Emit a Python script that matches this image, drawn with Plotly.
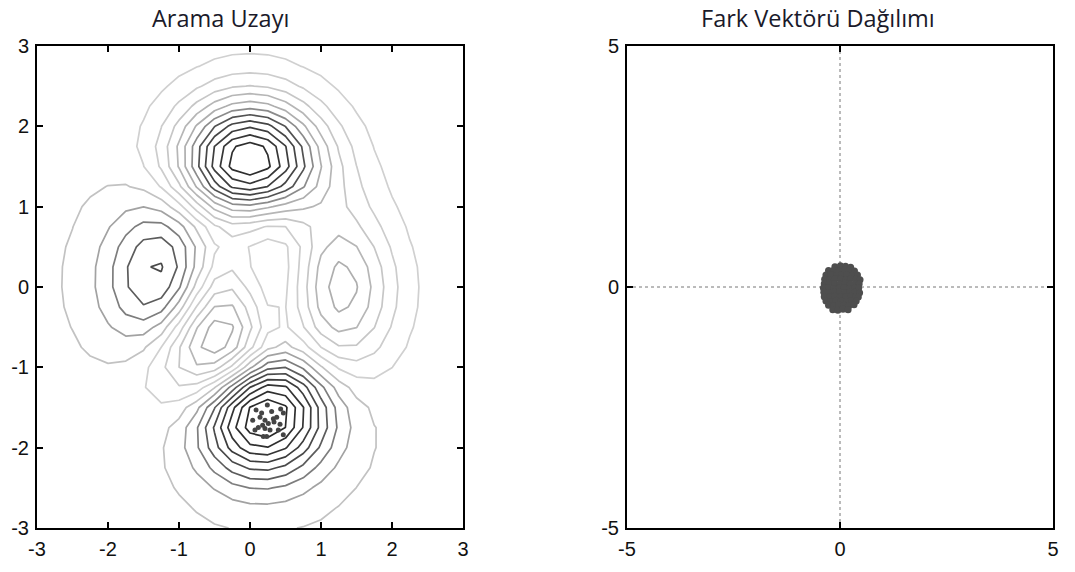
import numpy as np
import plotly.graph_objects as go

# ---------------- data ----------------
titles = ["Arama Uzayı", "Fark Vektörü Dağılımı"]
left_ticks = [-3, -2, -1, 0, 1, 2, 3]
left_ticktext = ["-3", "-2", "-1", "0", "1", "2", "3"]
right_ticks = [-5, 0, 5]
right_ticktext = ["-5", "0", "5"]
n_levels = 20

# search-space surface (MATLAB "peaks" landscape) sampled on a coarse 25x25 grid
grid_x = np.linspace(-3, 3, 25)
grid_y = np.linspace(-3, 3, 25)
GX, GY = np.meshgrid(grid_x, grid_y)
surface_z = (3 * (1 - GX) ** 2 * np.exp(-GX ** 2 - (GY + 1) ** 2)
             - 10 * (GX / 5 - GX ** 3 - GY ** 5) * np.exp(-GX ** 2 - GY ** 2)
             - 1 / 3 * np.exp(-(GX + 1) ** 2 - GY ** 2))

# population points in the search space
pop_x = [0.085, 0.244, 0.432, 0.305, 0.470, 0.376, 0.141, 0.211, 0.038, 0.258, 0.178, 0.338,
         0.423, 0.117, 0.211, 0.282, 0.070, 0.235, 0.188, 0.399, 0.469, 0.329, 0.164]
pop_y = [-1.53, -1.47, -1.52, -1.55, -1.57, -1.62, -1.62, -1.66, -1.66, -1.70, -1.72, -1.68,
         -1.71, -1.75, -1.76, -1.78, -1.78, -1.86, -1.86, -1.78, -1.84, -1.64, -1.57]

# difference-vector cloud
diff_x = [-0.12, 0.01, 0.13, 0.25,
          -0.27, -0.15, -0.02, 0.10, 0.22, 0.34,
          -0.33, -0.21, -0.08, 0.04, 0.16, 0.29, 0.41,
          -0.36, -0.24, -0.11, 0.01, 0.13, 0.25, 0.38, 0.47,
          -0.37, -0.25, -0.13, 0.00, 0.12, 0.24, 0.36, 0.45,
          -0.39, -0.27, -0.14, -0.02, 0.10, 0.22, 0.34, 0.44,
          -0.38, -0.26, -0.13, -0.01, 0.11, 0.23, 0.35, 0.46,
          -0.37, -0.24, -0.12, 0.01, 0.13, 0.25, 0.37, 0.43,
          -0.33, -0.21, -0.09, 0.03, 0.15, 0.27, 0.38,
          -0.27, -0.15, -0.03, 0.09, 0.21, 0.33,
          -0.17, -0.05, 0.07, 0.19]
diff_y = [0.42, 0.44, 0.43, 0.41,
          0.34, 0.35, 0.33, 0.35, 0.34, 0.33,
          0.25, 0.26, 0.24, 0.25, 0.26, 0.24, 0.25,
          0.16, 0.15, 0.17, 0.16, 0.15, 0.17, 0.16, 0.15,
          0.07, 0.08, 0.06, 0.07, 0.08, 0.06, 0.07, 0.06,
          -0.02, -0.01, -0.03, -0.02, -0.01, -0.03, -0.02, -0.02,
          -0.11, -0.12, -0.10, -0.11, -0.12, -0.10, -0.11, -0.12,
          -0.20, -0.21, -0.19, -0.20, -0.21, -0.19, -0.20, -0.21,
          -0.29, -0.30, -0.28, -0.29, -0.30, -0.28, -0.29,
          -0.38, -0.39, -0.37, -0.38, -0.39, -0.37,
          -0.47, -0.48, -0.46, -0.47]

# ---------------- figure ----------------
zmin, zmax = float(surface_z.min()), float(surface_z.max())
levels = np.linspace(zmin, zmax, n_levels + 2)[1:-1]
step = levels[1] - levels[0]


def pos(v):
    return (v - zmin) / (zmax - zmin)


line_scale = [
    [0.0, "#2a2a2a"], [pos(-4.28), "#383838"], [pos(-2.92), "#505050"], [pos(-2.24), "#676767"],
    [pos(-1.56), "#8a8a8a"], [pos(-0.87), "#aaaaaa"], [pos(-0.19), "#c6c6c6"], [pos(0.49), "#d0d0d0"],
    [pos(1.86), "#c8c8c8"], [pos(3.22), "#ababab"], [pos(3.90), "#b4b4b4"], [pos(4.58), "#5e5e5e"],
    [pos(5.27), "#4a4a4a"], [1.0, "#2e2e2e"],
]

fig = go.Figure()
fig.add_trace(go.Contour(
    x=grid_x, y=grid_y, z=surface_z, xaxis="x", yaxis="y",
    contours=dict(start=levels[0], end=levels[-1] + step * 0.01, size=step,
                  coloring="lines", showlabels=False),
    colorscale=line_scale, zauto=False, zmin=zmin, zmax=zmax,
    line=dict(width=1.7, smoothing=0), showscale=False, hoverinfo="skip"))

fig.add_trace(go.Scatter(x=pop_x, y=pop_y, mode="markers", xaxis="x", yaxis="y",
                         marker=dict(size=5, color="#444444"), showlegend=False))

fig.add_trace(go.Scatter(x=diff_x, y=diff_y, mode="markers", xaxis="x2", yaxis="y2",
                         marker=dict(size=7, color="#4e4e4e"), showlegend=False))

W, H = 1075, 572


def fx(px):
    return px / W


def fy(py):
    return 1 - py / H


tickfont = dict(family="Arial, Liberation Sans", size=20, color="#111111")
axcommon = dict(showgrid=False, zeroline=False, showline=True, linecolor="black", linewidth=2,
                mirror="allticks", ticks="inside", ticklen=6, tickwidth=1.5, tickcolor="black",
                tickfont=tickfont, automargin=False, ticklabelstandoff=2)

fig.update_layout(
    width=W, height=H, margin=dict(l=0, r=0, t=0, b=0),
    paper_bgcolor="white", plot_bgcolor="white", showlegend=False,
    xaxis=dict(domain=[fx(37), fx(463)], range=[-3, 3], tickvals=left_ticks,
               ticktext=left_ticktext, anchor="y", **axcommon),
    yaxis=dict(domain=[fy(528), fy(46)], range=[-3, 3], tickvals=left_ticks,
               ticktext=left_ticktext, anchor="x", **axcommon),
    xaxis2=dict(domain=[fx(627), fx(1053)], range=[-5, 5], tickvals=right_ticks,
                ticktext=right_ticktext, anchor="y2", **axcommon),
    yaxis2=dict(domain=[fy(528), fy(46)], range=[-5, 5], tickvals=right_ticks,
                ticktext=right_ticktext, anchor="x2", **axcommon),
    shapes=[
        dict(type="line", xref="x2", yref="y2", x0=0, x1=0, y0=-5, y1=5, layer="below",
             line=dict(color="#777777", width=1, dash="dot")),
        dict(type="line", xref="x2", yref="y2", x0=-5, x1=5, y0=0, y1=0, layer="below",
             line=dict(color="#777777", width=1, dash="dot")),
    ],
    annotations=[
        dict(text=titles[0], x=fx(220), y=fy(18), xref="paper", yref="paper",
             xanchor="center", yanchor="middle", showarrow=False,
             font=dict(family="Open Sans, Noto Sans", size=23.5, color="#1a1a2a")),
        dict(text=titles[1], x=fx(818), y=fy(18), xref="paper", yref="paper",
             xanchor="center", yanchor="middle", showarrow=False,
             font=dict(family="Open Sans, Noto Sans", size=23.5, color="#1a1a2a")),
    ],
)

# remove the browser's default 8px body margin so the figure sits at the page origin
fig.write_html("out.html", config={"displayModeBar": False},
               post_script="document.body.style.margin='0';")
